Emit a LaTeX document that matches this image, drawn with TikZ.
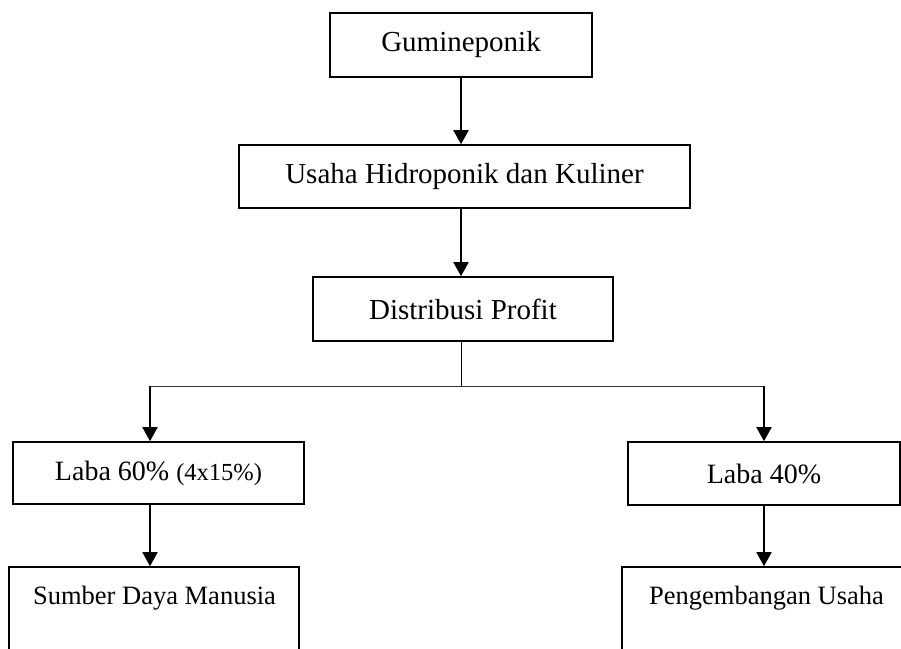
\documentclass[tikz,border=0pt]{standalone}
\usepackage{fontspec}
\setmainfont{Liberation Serif}
\usetikzlibrary{arrows.meta}
\tikzset{
  boxnode/.style={draw=black, line width=1.6pt, rectangle, inner sep=0pt, anchor=center},
  bigtext/.style={font=\fontsize{29}{34}\selectfont},
  midtext/.style={font=\fontsize{28}{33}\selectfont},
  smalltext/.style={font=\fontsize{26.5}{31}\selectfont},
  arr/.style={line width=1.8pt, -{Triangle[length=14pt,width=15pt]}},
  thinline/.style={line width=1pt, draw=black!80}
}
\begin{document}
\begin{tikzpicture}[x=1pt,y=-1pt]
\useasboundingbox (0,0) rectangle (901,648);
\clip (0,0) rectangle (901,648);
\fill[white] (0,0) rectangle (901,648);
% top boxes
\node[boxnode, bigtext, minimum width=262pt, minimum height=64pt] (b1) at (461,45) {Gumineponik};
\node[boxnode, bigtext, minimum width=451pt, minimum height=63pt] (b2) at (464.5,176.5) {Usaha Hidroponik dan Kuliner};
\node[boxnode, bigtext, minimum width=300pt, minimum height=64pt] (b3) at (463,309) {Distribusi Profit};
% middle boxes
\node[boxnode, midtext, minimum width=291pt, minimum height=62pt] (b4) at (158.5,473) {Laba 60\% {\fontsize{24.5}{29}\selectfont(4x15\%)}};
\node[boxnode, midtext, minimum width=272pt, minimum height=63pt] (b5) at (764,473.5) {Laba 40\%};
% bottom boxes (extend past the page bottom)
\node[boxnode, minimum width=290pt, minimum height=100pt] (b6) at (154,617) {};
\node[boxnode, minimum width=289pt, minimum height=100pt] (b7) at (766.5,617) {};
\node[smalltext, anchor=base] (b6t) at (154.5,604) {Sumber Daya Manusia};
\node[smalltext, anchor=base] (b7t) at (766.5,604) {Pengembangan Usaha};
% junction coordinates
\coordinate (j0) at (461,386);
\coordinate (jL) at (150,386);
\coordinate (jR) at (764,386);
% connectors
\draw[arr] (b1.south) -- (b1.south |- b2.north);
\draw[arr] (b2.south -| b1.south) -- (b3.north -| b1.south);
\draw[thinline, draw=black] (b3.south -| j0) -- (j0);
\draw[thinline] (jL) -- (jR);
\draw[arr] (jL) -- (jL |- b4.north);
\draw[arr] (jR) -- (jR |- b5.north);
\draw[arr] (b4.south -| jL) -- (b6.north -| jL);
\draw[arr] (b5.south -| jR) -- (b7.north -| jR);
\end{tikzpicture}
\end{document}
